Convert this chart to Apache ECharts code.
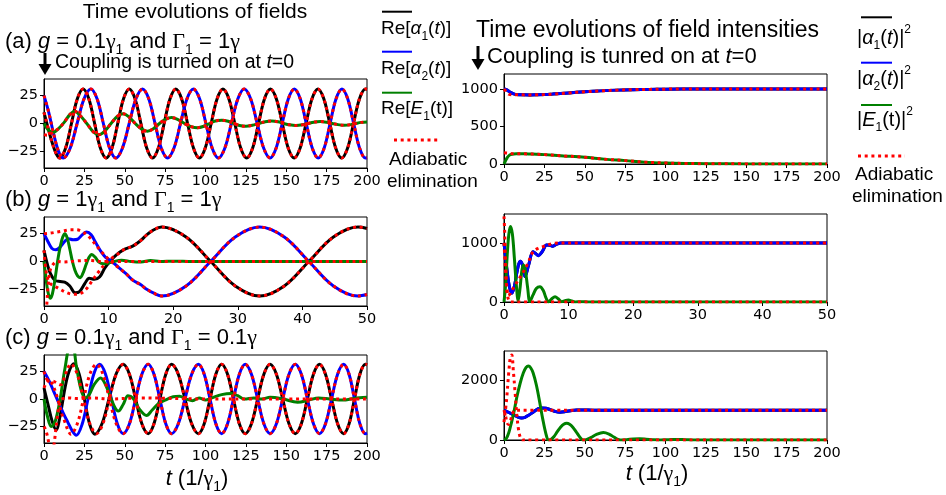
<!DOCTYPE html>
<html><head><meta charset="utf-8">
<script src="https://cdn.jsdelivr.net/npm/echarts@6/dist/echarts.min.js"></script>
<style>html,body{margin:0;padding:0;background:#fff}#c{width:946px;height:495px}</style>
</head><body><div id="c"></div>
<script>
// ---------------- DATA ----------------
// (a) g=0.1, Gamma=1 ; t in 1/gamma1
const la_a1 = [[0,10],[2.5,-4],[5,-17],[7.5,-27],[9.8,-31],[13.4,-22],[17,0],[20.6,22],[24.2,31],[27.8,22],[31.35,0],[34.9,-22],[38.5,-31],[42.1,-22],[45.65,0],[49.2,22],[52.8,31],[56.4,22],[60,0],[63.6,-22],[67.2,-31],[70.8,-22],[74.4,0],[78,22],[81.6,31],[85.25,22],[88.9,0],[92.55,-22],[96.2,-31],[99.85,-22],[103.5,0],[107.15,22],[110.8,31],[114.5,22],[118.15,0],[121.8,-22],[125.5,-31],[129.2,-22],[132.85,0],[136.5,22],[140.2,31],[143.9,22],[147.55,0],[151.2,-22],[154.9,-31],[158.6,-22],[162.25,0],[165.9,22],[169.6,31],[173.3,22],[176.95,0],[180.6,-22],[184.3,-31],[188,-22],[191.65,0],[195.3,22],[199,31],[200,30.8]];
const la_a2 = [[0,25],[3,9.6],[6,-9.6],[9,-25],[12,-31],[16.25,-22],[20.5,0],[24.75,22],[29,31],[32.9,22],[36.75,0],[40.6,-22],[44.5,-31],[48.6,-22],[52.75,0],[56.9,22],[61,31],[64.9,22],[68.75,0],[72.6,-22],[76.5,-31],[80.5,-22],[84.5,0],[88.5,22],[92.5,31],[96.4,22],[100.25,0],[104.1,-22],[108,-31],[112,-22],[116,0],[120,22],[124,31],[128,22],[132,0],[136,-22],[140,-31],[143.75,-22],[147.5,0],[151.25,22],[155,31],[158.7,22],[162.4,0],[166.1,-22],[169.8,-31],[173.5,-22],[177.15,0],[180.8,22],[184.5,31],[188.1,22],[191.75,0],[195.4,-22],[199,-31],[200,-30.8]];
const la_e1 = [[0,0],[2.5,-5.5],[5.5,-8],[9,-4.5],[12.5,1],[16,8],[19,11],[22.5,7],[26.5,0],[30.5,-7.5],[34,-10],[37.5,-7],[41.5,0],[45.5,6.5],[49,8.8],[52.5,6],[56.5,0],[60.5,-5],[64,-7],[67.5,-5],[71.5,0],[75.5,4],[79,5.3],[83,3.5],[87,0],[91,-2.8],[95,-3.8],[99,-2.5],[102.5,0],[106,2.2],[110,3],[114,2],[117.5,0],[121,-1.8],[125,-2.5],[129,-1.6],[133,0],[137,1.6],[141,2.2],[145,1.5],[148.5,0],[152,-1.2],[156,-1.8],[160,-1.2],[163.5,0],[167,1.2],[171,1.7],[175,1.1],[178.5,0],[182,-1],[186,-1.5],[190,-1],[193,0],[196.5,1],[200,1.4]];
const la_e1ad_head = [[0,-10],[2,-10.5],[4,-9.5],[6,-7.5]];

// (b) g=1, Gamma=1
const lb_a1 = [[0,10],[0.5,-2],[1,-11],[1.7,-17],[2.5,-18],[3.2,-18.5],[4,-22],[4.8,-28],[5.5,-27],[6.3,-20],[7,-15],[7.8,-16],[8.6,-14],[9.4,-6],[10.2,0],[11.2,6],[12.3,10.5],[13.8,14],[15,19],[15.9,24],[17,28.5],[18.2,31],[22,22],[25.8,0],[29.6,-22],[33.4,-31],[37.2,-22],[41,0],[44.8,22],[48.6,31],[50,29.7]];
const lb_a2 = [[0,25],[0.6,18],[1.2,12],[1.8,10.5],[2.5,13],[3.2,18],[3.8,20.5],[4.5,19.5],[5.2,20],[5.9,24],[6.6,26.5],[7.3,24],[8,17],[8.7,10],[9.5,4],[10.5,0],[11.5,-5],[12.7,-11],[13.8,-17],[15,-21],[15.9,-25],[17,-28.5],[18.2,-31],[22,-22],[25.8,0],[29.6,22],[33.4,31],[37.2,22],[41,0],[44.8,-22],[48.6,-31],[50,-29.7]];
const lb_e1 = [[0,0],[0.3,-15],[0.6,-27],[0.95,-33],[1.3,-29],[1.7,-16],[2.1,0],[2.5,13],[2.9,22],[3.25,25],[3.6,21],[4,11],[4.4,0],[4.8,-8],[5.2,-13],[5.6,-14.5],[6,-11],[6.5,-3],[6.9,3],[7.4,6.2],[7.9,4],[8.5,-0.5],[9.2,-2],[9.9,-1.5],[10.8,0],[12,1.2],[13.5,0],[15,-0.5],[16.5,0.8],[18,0],[20,0.3],[23,0],[30,0],[40,0],[50,0]];
const lb_a1ad_head = [[0,10],[0.3,-8],[0.6,-16],[1,-20],[1.6,-22],[2.5,-25],[3.5,-28],[4.5,-29.5],[5.5,-29],[6.5,-25],[7.5,-17],[8.5,-9],[9.5,-2],[10.5,3],[11.5,7]];
const lb_a2ad_head = [[0,25],[1,25.5],[2,26.5],[3,27.5],[4,28.5],[5,28.5],[6,26.5],[7,22],[8,15],[9,8],[10,2],[11,-3]];
const lb_e1ad = [[0,-105],[0.2,-70],[0.4,-42],[0.7,-18],[1,-7],[1.5,-2],[2,0],[3,-0.5],[5,0.5],[7,1],[9,0],[50,0]];

// (c) g=0.1, Gamma=0.1
const lc_a1 = [[0,10],[2.5,-5],[5,-20],[7.5,-28],[10,-15],[13,10],[15.5,25],[18.5,32],[21.7,23],[25,0],[28.3,-23],[31.5,-32],[35.9,-22.5],[40.25,0],[44.6,22.5],[49,31.5],[52.9,22.5],[56.75,0],[60.6,-22.5],[64.5,-31.5],[68.1,-22.5],[71.75,0],[75.4,22.5],[79,31.5],[83.15,22.5],[87.3,0],[91.45,-22.5],[95.6,-31.5],[99.2,-22.5],[102.8,0],[106.4,22.5],[110,31.5],[113.65,22.5],[117.3,0],[120.95,-22.5],[124.6,-31.5],[128.45,-22.5],[132.3,0],[136.15,22.5],[140,31.5],[143.9,22.5],[147.8,0],[151.7,-22.5],[155.6,-31.5],[159.35,-22.5],[163.1,0],[166.85,22.5],[170.6,31.5],[174.3,22.5],[178.05,0],[181.8,-22.5],[185.5,-31.5],[188.9,-22.5],[192.25,0],[195.6,22.5],[199,31.5],[200,31]];
const lc_a2 = [[0,25],[3,17],[6,7],[9,-3],[12,-13],[14.7,-21],[17.5,-29],[20,-33],[23.6,-23],[27.25,0],[30.9,23],[34.5,31.5],[38.1,22.5],[41.75,0],[45.4,-22.5],[49,-31.5],[52.9,-22.5],[56.75,0],[60.6,22.5],[64.5,31.5],[68.1,22.5],[71.75,0],[75.4,-22.5],[79,-31.5],[83.15,-22.5],[87.3,0],[91.45,22.5],[95.6,31.5],[99.2,22.5],[102.8,0],[106.4,-22.5],[110,-31.5],[113.65,-22.5],[117.3,0],[120.95,22.5],[124.6,31.5],[128.45,22.5],[132.3,0],[136.15,-22.5],[140,-31.5],[143.9,-22.5],[147.8,0],[151.7,22.5],[155.6,31.5],[159.35,22.5],[163.1,0],[166.85,-22.5],[170.6,-31.5],[174.3,-22.5],[178.05,0],[181.8,22.5],[185.5,31.5],[188.9,22.5],[192.25,0],[195.6,-22.5],[199,-31.5],[200,-31]];
const lc_e1 = [[0,0],[2,-15],[4.5,-25],[7,-20],[10,0],[13,28],[16,46],[18,46],[20,30],[23,8],[25.5,1],[28,4],[31,13],[35,19],[39,10],[43,-5],[46,-11],[49,-5],[52,3],[55,1],[59,-9],[63.5,-15],[67,-10],[71,-4],[75,-1],[80,2],[84,2.5],[88,0],[92,-1.5],[96,1],[100,-1],[104,1],[110,4],[116,5],[120,3],[124,0],[130,1],[135,0],[140,1.5],[148,0],[157,-3],[164,-1],[170,1],[177,0],[185,-1],[192,0.5],[200,1.5]];
const lc_a1ad_head = [[0,10],[1,13.5],[2,15.5],[3,16.5],[4,16.5],[6,16],[8,14.5],[10,13],[11,13.5],[12.5,19],[14,25.5],[15.2,29.5],[16.5,32],[20.5,23],[24.5,0],[28.5,-23],[32.5,-31.5],[36.5,-22.5],[40.5,0],[44.7,22.5],[49,31.5]];
const lc_a2ad_head = [[0,25],[1,20],[2,17.5],[3,16.5],[4,16],[5,14],[6,11],[7,7],[8,2.5],[9,-2.5],[10,-8],[11,-13.5],[12.5,-19],[14,-25.5],[15.2,-29.5],[16.5,-32],[20.5,-23],[24.5,0],[28.5,23],[32.5,31.5],[36.5,22.5],[40.5,0],[44.7,-22.5],[49,-31.5]];
const lc_e1ad = [[0,-25],[1,-28],[2,-33],[3,-40],[4,-46],[5,-48],[6,-43],[7,-32],[8,-19],[9,-9],[10,-3],[11,-0.5],[12,0.5],[16,1],[20,0.5],[30,1],[40,0],[60,1],[100,0],[200,0]];

// right (a) intensities
const ra_alpha = [[0,1000],[2,985],[4,955],[6,935],[8,925],[12,922],[16,921],[20,922],[25,925],[30,932],[40,948],[50,962],[60,975],[70,985],[80,991],[90,995],[100,998],[120,1000],[200,1000]];
const ra_e1 = [[0,0],[1,45],[2,85],[3,110],[4,124],[6,133],[8,136],[10,137],[15,134],[20,130],[25,125],[37,108],[50,89],[62,65],[75,45],[87,25],[100,13],[112,7],[125,4],[150,1.5],[175,0.5],[200,0]];
const ra_alphaad_head = [[0,1000],[1.5,960],[3,930],[5,922]];
const ra_e1ad_head = [[0,150],[2,145],[4,140],[6,136]];
// right (b)
const rb_alpha = [[0,1000],[0.4,600],[0.8,280],[1.2,150],[1.6,260],[2.1,560],[2.5,690],[2.9,620],[3.25,430],[3.8,620],[4.5,850],[5,810],[5.3,785],[5.9,850],[6.6,965],[7.1,960],[7.5,945],[8.1,975],[8.8,1000],[10,1000],[50,1000]];
const rb_e1 = [[0,0],[0.25,300],[0.5,800],[0.75,1150],[1,1280],[1.3,1150],[1.6,750],[1.9,300],[2.2,20],[2.5,250],[2.75,520],[3,627],[3.3,540],[3.65,250],[4,10],[4.5,120],[5,230],[5.57,260],[6.1,190],[6.5,70],[6.9,2],[7.4,55],[7.9,90],[8.4,55],[8.95,3],[9.45,22],[9.95,34],[10.5,18],[11,1],[12,5],[13,0],[50,0]];
const rb_alphaad = [[0,1000],[0.15,700],[0.3,400],[0.45,200],[0.6,110],[0.9,130],[1.2,190],[1.7,280],[2.2,370],[3,510],[3.8,680],[4.5,850],[5.3,910],[6.1,940],[6.9,970],[7.6,990],[8.5,1000],[10,1000],[50,1000]];
const rb_e1ad = [[0,1450],[0.1,1200],[0.2,800],[0.35,400],[0.5,150],[0.7,40],[1,0],[50,0]];
// right (c)
const rc_alpha = [[0,1000],[3,920],[6,840],[9,760],[10.9,740],[13,760],[15,820],[18,930],[21,1040],[23.3,1075],[26,1060],[29,1010],[32,950],[34.7,930],[38,950],[42,990],[45,1006],[50,1005],[55,1000],[200,1000]];
const rc_e1 = [[0,0],[1.5,60],[3,250],[4.5,560],[6,900],[8,1450],[10,1900],[12,2250],[13.7,2430],[15.1,2480],[16.5,2420],[18,2250],[20,1850],[22,1300],[24,700],[26,200],[27.5,0],[29,20],[31,120],[33,280],[35,430],[37,530],[38.8,560],[40.6,530],[42.6,430],[44.6,280],[46.6,120],[48,30],[49,0],[51,15],[54,90],[57,180],[61.5,250],[65,200],[68,100],[70.5,20],[72,0],[76,12],[80,32],[84,40],[88,28],[93,6],[97,3],[102,12],[107,20],[112,12],[118,2],[130,3],[145,1],[200,0]];
const rc_alphaad = [[0,1000],[1,800],[2,560],[3,520],[4,650],[5,850],[6,960],[7,1000],[200,1000]];
const rc_e1ad = [[0,600],[1.5,1300],[3,2300],[4,2800],[4.8,2850],[5.8,2300],[7,1500],[8,800],[9,350],[10,100],[11,10],[12,0],[200,0]];

// tick values
const leftYTicks = [-25, 0, 25];
const raYTicks = [0, 500, 1000];
const rbYTicks = [0, 1000];
const rcYTicks = [0, 2000];

// ---------------- LAYOUT / STYLE ----------------
const SANS = "'Liberation Sans', Arial, sans-serif";
const SERIF = "'Liberation Serif', 'Times New Roman', serif";
const TICKF = "'DejaVu Sans', sans-serif";
const BLACK = '#000000', BLUE = '#0000ff', GREEN = '#008000', RED = '#ff0000';

const grids = [
  {left:44, top:79, width:323, height:89},
  {left:44, top:217, width:323, height:89},
  {left:44, top:355, width:323, height:88},
  {left:504, top:74, width:323, height:90},
  {left:504, top:214, width:323, height:88},
  {left:504, top:351, width:323, height:89}
];
const xCfg = [[0,200,25],[0,50,10],[0,200,25],[0,200,25],[0,50,10],[0,200,25]];
const yCfg = [[-40,40,leftYTicks],[-40,40,leftYTicks],[-40,40,leftYTicks],[0,1200,raYTicks],[0,1490,rbYTicks],[0,2980,rcYTicks]];

const fmt = v => String(v).replace('-', '\u2212');

const xAxes = xCfg.map((c, i) => ({
  type:'value', gridIndex:i, min:c[0], max:c[1], interval:c[2],
  axisLine:{show:true, onZero:false, lineStyle:{color:'#000', width:1}},
  axisTick:{show:true, length:4, lineStyle:{color:'#000'}},
  axisLabel:{fontFamily:TICKF, fontSize:14.5, color:'#000', margin:6, formatter: fmt},
  splitLine:{show:false}
}));
const yAxes = yCfg.map((c, i) => ({
  type:'value', gridIndex:i, min:c[0], max:c[1],
  axisLine:{show:true, onZero:false, lineStyle:{color:'#000', width:1}},
  axisTick:{show:true, length:4, lineStyle:{color:'#000'}, customValues:c[2]},
  axisLabel:{fontFamily:TICKF, fontSize:14.5, color:'#000', margin:6, formatter: fmt, customValues:c[2]},
  splitLine:{show:false}
}));

function ln(gi, data, color, dotted) {
  return {type:'line', xAxisIndex:gi, yAxisIndex:gi, data:data, showSymbol:false, symbol:'none',
    smooth:0.35, animation:false, silent:true, z: dotted ? 5 : 3,
    lineStyle:{color:color, width:3, type: dotted ? [3,3.7] : 'solid', cap:'butt'},
    itemStyle:{color:color}};
}
const after = (arr, t) => arr.filter(p => p[0] > t);

const series = [
  ln(0, la_a1, BLACK), ln(0, la_a2, BLUE), ln(0, la_e1, GREEN),
  ln(0, la_a1, RED, true), ln(0, la_a2, RED, true), ln(0, la_e1ad_head.concat(after(la_e1, 8)), RED, true),

  ln(1, lb_a1, BLACK), ln(1, lb_a2, BLUE), ln(1, lb_e1, GREEN),
  ln(1, lb_a1ad_head.concat(after(lb_a1, 12.2)), RED, true),
  ln(1, lb_a2ad_head.concat(after(lb_a2, 12.6)), RED, true),
  ln(1, lb_e1ad, RED, true),

  ln(2, lc_a1, BLACK), ln(2, lc_a2, BLUE), ln(2, lc_e1, GREEN),
  ln(2, lc_a1ad_head.concat(after(lc_a1, 49)), RED, true),
  ln(2, lc_a2ad_head.concat(after(lc_a2, 49)), RED, true),
  ln(2, lc_e1ad, RED, true),

  ln(3, ra_alpha, BLACK), ln(3, ra_alpha, BLUE), ln(3, ra_e1, GREEN),
  ln(3, ra_alphaad_head.concat(after(ra_alpha, 6)), RED, true),
  ln(3, ra_e1ad_head.concat(after(ra_e1, 7)), RED, true),

  ln(4, rb_alpha, BLACK), ln(4, rb_alpha, BLUE), ln(4, rb_e1, GREEN),
  ln(4, rb_alphaad, RED, true), ln(4, rb_e1ad, RED, true),

  ln(5, rc_alpha, BLACK), ln(5, rc_alpha, BLUE), ln(5, rc_e1, GREEN),
  ln(5, rc_alphaad, RED, true), ln(5, rc_e1ad, RED, true)
];

function rich(fs) {
  const lh = Math.round(fs * 1.4), sfs = Math.round(fs * 0.62);
  return {
    n:{fontSize:fs, fontFamily:SANS, lineHeight:lh, fill:'#000', color:'#000'},
    i:{fontSize:fs, fontFamily:SANS, fontStyle:'italic', lineHeight:lh, fill:'#000', color:'#000'},
    g:{fontSize:fs, fontFamily:SERIF, lineHeight:lh, fill:'#000', color:'#000'},
    sb:{fontSize:sfs, fontFamily:SANS, verticalAlign:'bottom', lineHeight:sfs, fill:'#000', color:'#000'},
    sp:{fontSize:sfs, fontFamily:SANS, verticalAlign:'top', lineHeight:sfs, fill:'#000', color:'#000'}
  };
}
function txt(x, y, text, fs, align) {
  const a = align || 'left';
  return {type:'text', x:x, y:y, z:100, silent:true,
    style:{text:text, rich:rich(fs), fill:'#000', fontSize:fs, fontFamily:SANS,
      align:a, verticalAlign:'middle', textAlign:a, textVerticalAlign:'middle'}};
}
function arrow(x, y1, y2) {
  return [
    {type:'line', z:100, silent:true, shape:{x1:x, y1:y1, x2:x, y2:y2-8}, style:{stroke:'#000', lineWidth:3}},
    {type:'polygon', z:100, silent:true, shape:{points:[[x-6.5,y2-11],[x+6.5,y2-11],[x,y2]]}, style:{fill:'#000'}}
  ];
}
function legLine(x1, x2, y, color, dotted) {
  return {type:'line', z:100, silent:true, shape:{x1:x1, y1:y, x2:x2, y2:y},
    style:{stroke:color, lineWidth: dotted ? 3 : 2, lineDash: dotted ? [3,3.7] : null, lineCap:'butt'}};
}

const graphics = [
  txt(195, 12, '{n|Time evolutions of fields}', 21, 'center'),
  txt(5, 42, '{n|(a) }{i|g}{n| = 0.1}{g|γ}{sb|1}{n| and }{g|Γ}{sb|1}{n| = 1}{g|γ}', 22),
  txt(55, 63, '{n|Coupling is turned on at }{i|t}{n|=0}', 19.5),
  ...arrow(45, 53, 75),
  txt(5, 200, '{n|(b) }{i|g}{n| = 1}{g|γ}{sb|1}{n| and }{g|Γ}{sb|1}{n| = 1}{g|γ}', 22),
  txt(5, 338, '{n|(c) }{i|g}{n| = 0.1}{g|γ}{sb|1}{n| and }{g|Γ}{sb|1}{n| = 0.1}{g|γ}', 22),
  txt(197, 479, '{i|t}{n| (1/}{g|γ}{sb|1}{n|)}', 22, 'center'),

  txt(476, 31, '{n|Time evolutions of field intensities}', 23),
  txt(487, 57, '{n|Coupling is tunred on at }{i|t}{n|=0}', 22),
  ...arrow(478, 46, 70),
  txt(657, 474, '{i|t}{n| (1/}{g|γ}{sb|1}{n|)}', 22, 'center'),

  legLine(382, 412, 11.7, BLACK), txt(381, 29, '{n|Re[}{i|α}{sb|1}{n|(}{i|t}{n|)]}', 19),
  legLine(382, 412, 51.7, BLUE), txt(381, 69, '{n|Re[}{i|α}{sb|2}{n|(}{i|t}{n|)]}', 19),
  legLine(382, 412, 92.7, GREEN), txt(381, 109, '{n|Re[}{i|E}{sb|1}{n|(t)]}', 19),
  legLine(394, 440, 140, RED, true),
  txt(389, 160, '{n|Adiabatic}', 19), txt(387, 182, '{n|elimination}', 19),

  legLine(861, 892, 17.3, BLACK), txt(857, 38, '{n||}{i|α}{sb|1}{n|(}{i|t}{n|)|}{sp|2}', 20),
  legLine(861, 892, 62.7, BLUE), txt(857, 79, '{n||}{i|α}{sb|2}{n|(}{i|t}{n|)|}{sp|2}', 20),
  legLine(861, 892, 105, GREEN), txt(857, 120, '{n||}{i|E}{sb|1}{n|(t)|}{sp|2}', 20),
  legLine(858, 905, 156, RED, true),
  txt(855, 175, '{n|Adiabatic}', 19), txt(852, 197, '{n|elimination}', 19)
];

const chart = echarts.init(document.getElementById('c'), null, {renderer:'canvas'});
chart.setOption({
  animation:false,
  backgroundColor:'#fff',
  grid: grids.map(g => Object.assign({show:true, borderColor:'#000', borderWidth:1, backgroundColor:'transparent', containLabel:false}, g)),
  xAxis: xAxes,
  yAxis: yAxes,
  series: series,
  graphic: {elements: graphics}
});
</script></body></html>
